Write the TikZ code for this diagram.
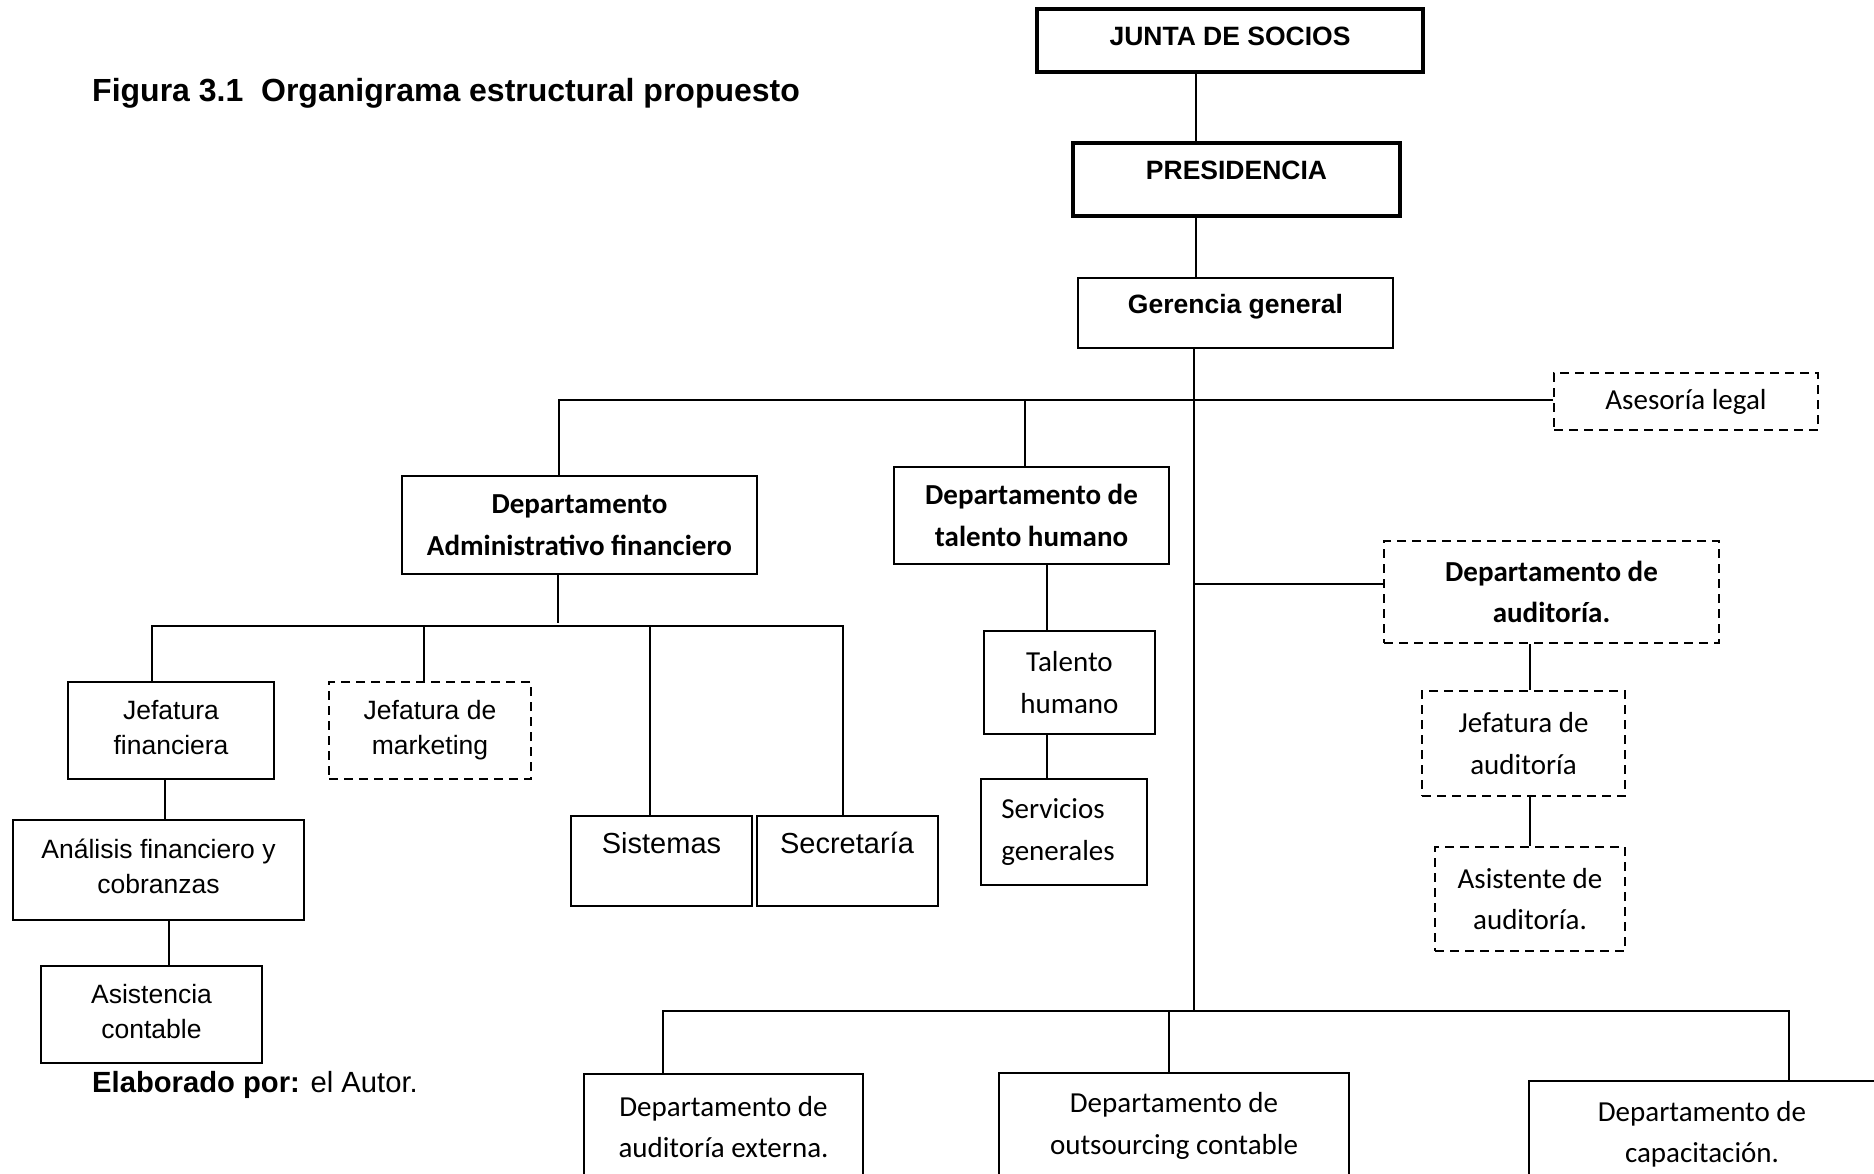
\documentclass[tikz,border=0pt]{standalone}
\usepackage{fontspec}
\setmainfont{Liberation Sans}
\newfontfamily\calfont{Carlito}
\usetikzlibrary{calc}

% raise a piece of text inside a box without changing the box size
\newcommand\lift[2]{\raisebox{#1pt}[0pt][0pt]{#2}}
% two centred lines as one block
\newcommand\twolines[2]{\begin{tabular}{@{}c@{}}#1\\[0pt]#2\end{tabular}}

\tikzset{
  box/.style={draw, line width=2pt, inner sep=0pt, align=center},
  heavy/.style={box, line width=3.4pt},
  dbox/.style={box, dash pattern=on 9pt off 6pt},
  link/.style={line width=1.8pt},
  arialb/.style={font=\fontsize{26.5}{35}\selectfont\bfseries},
  arial/.style={font=\fontsize{26.5}{35}\selectfont},
  arialL/.style={font=\fontsize{29}{35}\selectfont},
  cal/.style={font=\calfont\fontsize{29}{41.5}\selectfont},
  calb/.style={font=\calfont\fontsize{29}{41.5}\selectfont\bfseries},
}

\begin{document}
\begin{tikzpicture}[x=1pt, y=-1pt]
\useasboundingbox (0,0) rectangle (1874,1173);
\fill[white] (0,0) rectangle (1874,1173);
\clip (0,0) rectangle (1874,1173);

% title and source note
\node[anchor=base west, inner sep=0pt, font=\fontsize{32}{38}\selectfont\bfseries] (title) at (92,101)
  {Figura 3.1~ Organigrama estructural propuesto};
\node[anchor=base west, inner sep=0pt, font=\fontsize{29.2}{35}\selectfont] (autor) at (92,1092)
  {\textbf{Elaborado por:} el Autor.};

% top levels
\node[heavy, arialb, minimum width=386pt, minimum height=63pt] (junta) at (1230,40.5) {\lift{-5.2}{JUNTA DE SOCIOS}};
\node[heavy, arialb, minimum width=327pt, minimum height=73pt] (pres) at (1236.5,179.5) {\lift{0.5}{PRESIDENCIA}};
\node[box, arialb, minimum width=315pt, minimum height=70pt] (ger) at (1235.5,313) {\lift{0}{Gerencia general}};
\node[dbox, cal, minimum width=264pt, minimum height=57pt] (ases) at (1686,401.5) {Asesoría legal};

% administrative and financial branch
\node[box, calb, minimum width=355pt, minimum height=98pt] (adm) at (579.5,525) {Departamento\\Administrativo financiero};
\node[box, arial, minimum width=206pt, minimum height=97pt] (jf) at (171,730.5) {\lift{-6}{\twolines{Jefatura}{financiera}}};
\node[dbox, arial, minimum width=202pt, minimum height=97pt] (mk) at (430,730.5) {Jefatura de\\marketing};
\node[box, arialL, minimum width=181pt, minimum height=90pt] (sis) at (661.5,860.5) {\lift{6.7}{Sistemas}};
\node[box, arialL, minimum width=181pt, minimum height=90pt] (sec) at (847,860.5) {\lift{6.7}{Secretaría}};
\node[box, arial, minimum width=291pt, minimum height=100pt] (an) at (158.5,870) {\lift{-5}{\twolines{Análisis financiero y}{cobranzas}}};
\node[box, arial, minimum width=221pt, minimum height=97pt] (asc) at (151.5,1014.5) {\lift{-6}{\twolines{Asistencia}{contable}}};

% human resources branch
\node[box, calb, minimum width=275pt, minimum height=97pt] (thd) at (1031.5,515.5) {Departamento de\\talento humano};
\node[box, cal, minimum width=171pt, minimum height=103pt] (th) at (1069.5,682.5) {Talento\\humano};
\node[box, cal, align=left, minimum width=166pt, minimum height=106pt] (sg) at (1064,832) {Servicios\\generales\hspace*{12pt}};

% audit branch
\node[dbox, calb, minimum width=335pt, minimum height=102pt] (aud) at (1551.5,592) {Departamento de\\auditoría.};
\node[dbox, cal, minimum width=203pt, minimum height=105pt] (jaud) at (1523.5,743.5) {Jefatura de\\auditoría};
\node[dbox, cal, minimum width=190pt, minimum height=104pt] (asis) at (1530,899) {Asistente de\\auditoría.};

% lower departments
\node[box, cal, minimum width=279pt, minimum height=106pt] (ext) at (723.5,1127) {Departamento de\\auditoría externa.};
\node[box, cal, minimum width=350pt, minimum height=106pt] (outs) at (1174,1126) {Departamento de\\outsourcing contable};
\node[box, cal, minimum width=346pt, minimum height=107pt] (cap) at (1702,1134.5) {Departamento de\\capacitación.};

% connector positions
\coordinate (xJ) at (1196,0);
\coordinate (xT) at (1194,0);
\coordinate (busTop) at (559,400);
\coordinate (xTH) at (1025,400);
\coordinate (busAdm) at (152,626);
\coordinate (xAdm) at (558,0);
\coordinate (xMk) at (424,0);
\coordinate (xSis) at (650,0);
\coordinate (xSec) at (843,0);
\coordinate (xAn) at (165,0);
\coordinate (xAsc) at (169,0);
\coordinate (xTHd) at (1047,0);
\coordinate (yAud) at (0,584);
\coordinate (xJaud) at (1530,0);
\coordinate (busLow) at (663,1011);
\coordinate (xOuts) at (1169,0);
\coordinate (xCap) at (1789,0);

% connectors
\draw[link] (junta.south -| xJ) -- (pres.north -| xJ);
\draw[link] (pres.south -| xJ) -- (ger.north -| xJ);
\draw[link] (ger.south -| xT) -- (busLow -| xT);
\draw[link] (busTop |- adm.north) -- (busTop) -- (busTop -| ases.west);
\draw[link] (xTH) -- (xTH |- thd.north);
\draw[link] (adm.south -| xAdm) -- ([yshift=3pt]busAdm -| xAdm);
\draw[link] (busAdm |- jf.north) -- (busAdm) -- (xSec |- busAdm) -- (xSec |- sec.north);
\draw[link] (xMk |- busAdm) -- (xMk |- mk.north);
\draw[link] (xSis |- busAdm) -- (xSis |- sis.north);
\draw[link] (jf.south -| xAn) -- (an.north -| xAn);
\draw[link] (an.south -| xAsc) -- (asc.north -| xAsc);
\draw[link] (thd.south -| xTHd) -- (th.north -| xTHd);
\draw[link] (th.south -| xTHd) -- (sg.north -| xTHd);
\draw[link] (xT |- yAud) -- (aud.west |- yAud);
\draw[link] (aud.south -| xJaud) -- (jaud.north -| xJaud);
\draw[link] (jaud.south -| xJaud) -- (asis.north -| xJaud);
\draw[link] (busLow |- ext.north) -- (busLow) -- (xCap |- busLow) -- (xCap |- cap.north);
\draw[link] (xOuts |- busLow) -- (xOuts |- outs.north);
\end{tikzpicture}
\end{document}
